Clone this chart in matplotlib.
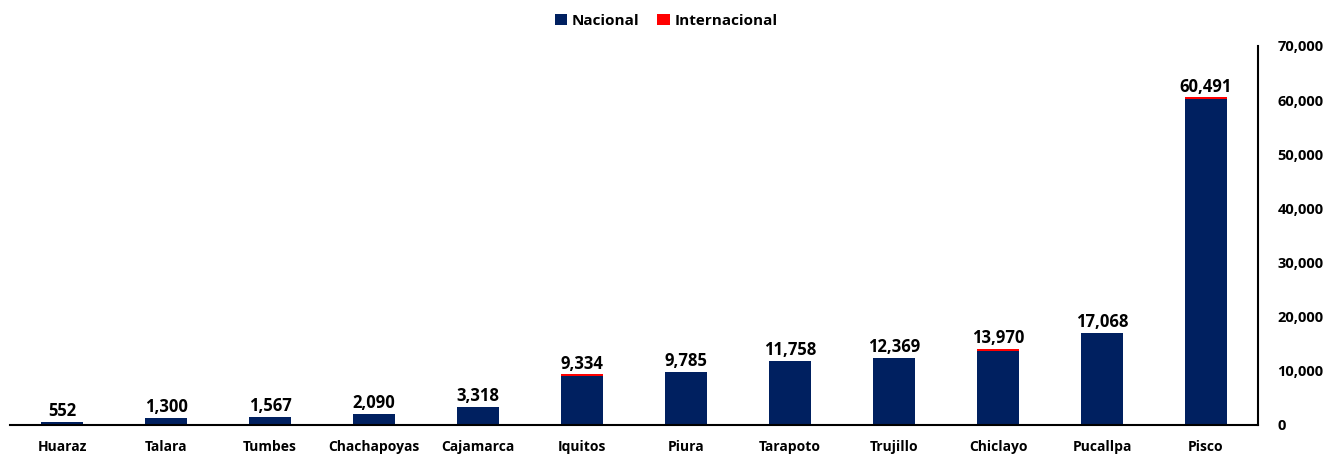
import matplotlib
matplotlib.use("Agg")
import matplotlib.pyplot as plt
from matplotlib.ticker import FuncFormatter

plt.rcParams['font.family'] = ['Open Sans', 'DejaVu Sans']

ciudades = ["Huaraz", "Talara", "Tumbes", "Chachapoyas", "Cajamarca", "Iquitos",
            "Piura", "Tarapoto", "Trujillo", "Chiclayo", "Pucallpa", "Pisco"]
totales = [552, 1300, 1567, 2090, 3318, 9334, 9785, 11758, 12369, 13970, 17068, 60491]
internacional = [0, 40, 180, 0, 40, 200, 30, 20, 30, 250, 60, 250]
nacional = [t - i for t, i in zip(totales, internacional)]

azul = "#002060"
rojo = "#FF0000"

fig = plt.figure(figsize=(13.32, 4.54), dpi=100)
ax = fig.add_axes([10/1332, 29/454, 1248/1332, (425-46)/454])

x = list(range(len(ciudades)))
w = 0.4
ax.bar(x, nacional, width=w, color=azul, label="Nacional")
ax.bar(x, internacional, width=w, bottom=nacional, color=rojo, label="Internacional")

for xi, t in zip(x, totales):
    ax.text(xi, t + 350, f"{t:,}", ha="center", va="bottom", fontsize=12,
            fontweight="bold", color="black")

ax.set_xlim(-0.5, 11.5)
ax.set_ylim(0, 70000)
ax.set_xticks(x)
ax.set_xticklabels(ciudades, fontsize=10, fontweight="bold")
ax.tick_params(axis="x", length=0, pad=11)
ax.set_yticks(range(0, 70001, 10000))
ax.yaxis.tick_right()
ax.yaxis.set_major_formatter(FuncFormatter(lambda v, p: f"{int(v):,}"))
ax.tick_params(axis="y", length=0, pad=14, labelsize=10.5)
for lbl in ax.get_yticklabels():
    lbl.set_fontweight("bold")

for s in ["top", "left"]:
    ax.spines[s].set_visible(False)
ax.spines["bottom"].set_linewidth(1.5)
ax.spines["right"].set_linewidth(1.5)

leg = fig.legend(loc="upper center", bbox_to_anchor=(0.5, 1.0), ncol=2, frameon=False,
                 handlelength=0.8, handleheight=0.8, handletextpad=0.3, columnspacing=1.2,
                 prop={"weight": "bold", "size": 11})

fig.savefig("out.png", dpi=100)
